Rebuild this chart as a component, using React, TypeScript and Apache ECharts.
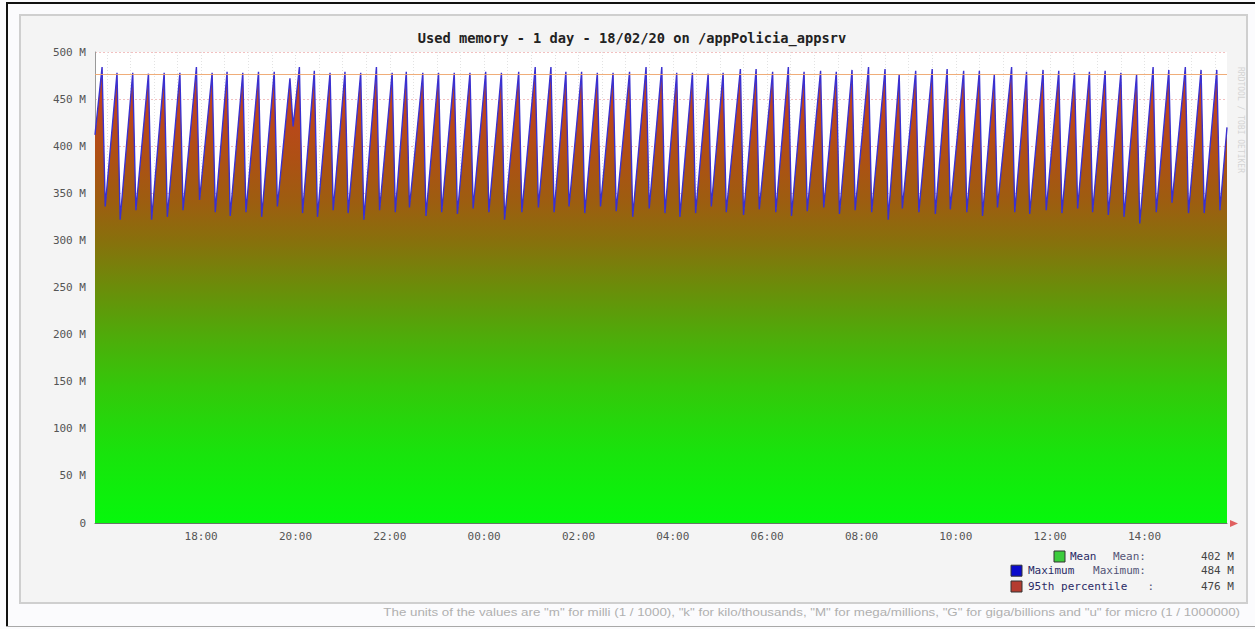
import React, { useEffect, useRef } from 'react';
import * as echarts from 'echarts';

// time in minutes since 00:00 of 17/02 (values above 1440 are on 18/02)
const startPoint: [number, number] = [945, 412];
const endPoint: [number, number] = [2385, 420];

const peakTimes = [
  954, 973, 993, 1013, 1033, 1053, 1074, 1094, 1113, 1133,
  1153, 1173, 1193, 1205, 1224, 1244, 1263, 1283, 1303, 1323,
  1341, 1362, 1382, 1402, 1422, 1442, 1462, 1484, 1505, 1525,
  1544, 1564, 1584, 1604, 1625, 1646, 1666, 1685, 1705, 1725,
  1744, 1766, 1786, 1807, 1827, 1847, 1868, 1888, 1908, 1929,
  1950, 1968, 1989, 2010, 2029, 2050, 2070, 2089, 2111, 2130,
  2151, 2171, 2191, 2210, 2230, 2250, 2270, 2291, 2311, 2332,
  2352, 2372,
];
const peakValues = [
  484, 478, 478, 477, 478, 478, 484, 478, 479, 478,
  479, 479, 472, 484, 480, 478, 479, 478, 484, 478,
  479, 478, 478, 478, 478, 479, 478, 479, 484, 484,
  479, 479, 478, 478, 479, 484, 484, 478, 478, 477,
  478, 482, 482, 479, 484, 479, 480, 479, 481, 484,
  482, 476, 480, 482, 482, 480, 480, 476, 484, 479,
  481, 480, 478, 479, 480, 478, 476, 484, 481, 484,
  481, 481,
];
const troughTimes = [
  958, 977, 997, 1017, 1037, 1057, 1078, 1098, 1117, 1137,
  1157, 1177, 1197, 1209, 1228, 1248, 1267, 1287, 1307, 1327,
  1345, 1366, 1386, 1406, 1426, 1446, 1466, 1488, 1509, 1529,
  1548, 1568, 1588, 1608, 1629, 1650, 1670, 1689, 1709, 1729,
  1748, 1770, 1790, 1811, 1831, 1851, 1872, 1892, 1912, 1933,
  1954, 1972, 1993, 2014, 2033, 2054, 2074, 2093, 2115, 2134,
  2155, 2175, 2195, 2214, 2234, 2254, 2274, 2295, 2315, 2336,
  2356, 2376,
];
const troughValues = [
  336, 322, 332, 322, 325, 332, 343, 330, 326, 330,
  325, 336, 421, 329, 325, 332, 329, 322, 332, 330,
  335, 326, 330, 328, 334, 330, 322, 330, 335, 330,
  336, 329, 336, 331, 325, 334, 329, 325, 329, 336,
  330, 327, 333, 330, 326, 331, 335, 328, 332, 330,
  322, 334, 330, 328, 333, 330, 326, 335, 330, 328,
  332, 329, 334, 330, 327, 325, 318, 330, 340, 329,
  329, 332,
];

const xTickTimes = [1080, 1200, 1320, 1440, 1560, 1680, 1800, 1920, 2040, 2160, 2280];
const xTickLabels = ['18:00', '20:00', '22:00', '00:00', '02:00', '04:00', '06:00', '08:00', '10:00', '12:00', '14:00'];

const legendNames = ['Mean', 'Maximum', '95th percentile'];
const legendLabels = ['Mean:', 'Maximum:', ':'];
const legendValues = ['402 M', '484 M', '476 M'];
const percentile95 = 476;

const titleText = 'Used memory - 1 day - 18/02/20 on /appPolicia_appsrv';
const footerText =
  'The units of the values are "m" for milli (1 / 1000), "k" for kilo/thousands, "M" for mega/millions, "G" for giga/billions and "u" for micro (1 / 1000000)';

const MONO = '"DejaVu Sans Mono", "Liberation Mono", monospace';

export default function App() {
  const ref = useRef<HTMLDivElement>(null);

  useEffect(() => {
    if (!ref.current) return;
    const chart = echarts.init(ref.current, undefined, { renderer: 'svg' });

    const memData: [number, number][] = [startPoint];
    for (let i = 0; i < peakTimes.length; i++) {
      memData.push([peakTimes[i], peakValues[i]]);
      memData.push([troughTimes[i], troughValues[i]]);
    }
    memData.push(endPoint);

    const gridTimes: number[] = [];
    for (let t = 960; t < 2385; t += 30) gridTimes.push(t);

    const gradient = new echarts.graphic.LinearGradient(0, 0, 0, 1, [
      { offset: 0, color: '#c43c22' },
      { offset: 0.1, color: '#bc461c' },
      { offset: 0.2, color: '#ae5014' },
      { offset: 0.3, color: '#9c5e10' },
      { offset: 0.38, color: '#88700c' },
      { offset: 0.48, color: '#6c8c0a' },
      { offset: 0.6, color: '#4cae0a' },
      { offset: 0.7, color: '#34c80a' },
      { offset: 0.85, color: '#18e40c' },
      { offset: 1, color: '#06f80c' },
    ]);

    const legendColors = ['#3ccc3c', '#0a0acc', '#b43c30'];
    const legendBoxX = [1054, 1011, 1011];
    const legendNameX = [1070, 1028, 1028];
    const legendRowY = [556.5, 570.7, 586.5];
    const legendLabelX = [1146, 1146, 1154];

    const legendGraphics: any[] = [];
    for (let i = 0; i < legendNames.length; i++) {
      legendGraphics.push({
        type: 'rect',
        z: 10,
        shape: { x: legendBoxX[i], y: legendRowY[i] - 5.5, width: 11, height: 11 },
        style: { fill: legendColors[i], stroke: '#333', lineWidth: 1 },
      });
      legendGraphics.push({
        type: 'text', z: 10, x: legendNameX[i], y: legendRowY[i],
        style: { text: legendNames[i], fill: '#2b2b66', fontSize: 11, fontFamily: MONO, align: 'left', verticalAlign: 'middle' },
      });
      legendGraphics.push({
        type: 'text', z: 10, x: legendLabelX[i], y: legendRowY[i],
        style: { text: legendLabels[i], fill: '#555577', fontSize: 11, fontFamily: MONO, align: 'right', verticalAlign: 'middle' },
      });
      legendGraphics.push({
        type: 'text', z: 10, x: 1234, y: legendRowY[i],
        style: { text: legendValues[i], fill: '#444', fontSize: 11, fontFamily: MONO, align: 'right', verticalAlign: 'middle' },
      });
    }

    chart.setOption({
      animation: false,
      backgroundColor: '#fbfbfd',
      grid: { left: 95, top: 52, right: 28, bottom: 106, show: true, backgroundColor: '#ffffff', borderWidth: 0 },
      xAxis: {
        type: 'value',
        min: 945,
        max: 2385,
        axisLine: { show: true, onZero: false, lineStyle: { color: '#667766', width: 1 } },
        axisTick: { show: false, customValues: gridTimes },
        splitLine: { show: true, lineStyle: { color: '#e2e2e2', type: [1, 2], width: 1 } },
        axisLabel: {
          customValues: xTickTimes,
          formatter: (v: number) => {
            const idx = xTickTimes.indexOf(Math.round(v));
            return idx >= 0 ? xTickLabels[idx] : '';
          },
          fontFamily: MONO,
          fontSize: 11,
          color: '#555',
          margin: 8,
        },
      },
      yAxis: {
        type: 'value',
        min: 0,
        max: 500,
        interval: 50,
        axisLine: { show: true, lineStyle: { color: '#999' } },
        axisTick: { show: false },
        splitLine: { show: true, lineStyle: { color: '#f2c0c0', type: [2, 2], width: 1 } },
        axisLabel: {
          formatter: (v: number) => (v === 0 ? '0' : v + ' M'),
          fontFamily: MONO,
          fontSize: 11,
          color: '#555',
          margin: 9,
        },
      },
      series: [
        {
          name: 'Mean',
          type: 'line',
          data: memData,
          symbol: 'none',
          lineStyle: { width: 0 },
          areaStyle: { color: gradient, opacity: 1 },
          silent: true,
          z: 2,
        },
        {
          name: 'Maximum',
          type: 'line',
          data: memData,
          symbol: 'none',
          lineStyle: { color: '#3a30d0', width: 1.4 },
          silent: true,
          z: 3,
          markLine: {
            silent: true,
            symbol: ['none', 'none'],
            label: { show: false },
            lineStyle: { color: '#eea46a', width: 1, type: 'solid', opacity: 0.9 },
            data: [{ yAxis: percentile95 }],
          },
        },
      ],
      graphic: [
        { type: 'rect', z: -5, shape: { x: 6, y: 2, width: 1249, height: 2 }, style: { fill: '#111' } },
        { type: 'rect', z: -5, shape: { x: 6, y: 2, width: 2, height: 625 }, style: { fill: '#111' } },
        { type: 'rect', z: -5, shape: { x: 6, y: 626, width: 1249, height: 1 }, style: { fill: '#a8a8a8' } },
        {
          type: 'rect', z: -5,
          shape: { x: 20, y: 15, width: 1227, height: 588 },
          style: { fill: '#f4f4f4', stroke: '#cfcfcf', lineWidth: 2 },
        },
        {
          type: 'text', z: 10, x: 632, y: 37.5,
          style: { text: titleText, fill: '#222', fontSize: 13.7, fontWeight: 'bold', fontFamily: MONO, align: 'center', verticalAlign: 'middle' },
        },
        {
          type: 'text', z: 10, x: 1240, y: 612, scaleX: 1.16,
          style: { text: footerText, fill: '#b0b0b0', fontSize: 11.5, fontFamily: '"Liberation Sans", Arial, sans-serif', align: 'right', verticalAlign: 'middle' },
        },
        {
          type: 'text', z: 10, x: 1240, y: 120, rotation: -Math.PI / 2,
          style: { text: 'RRDTOOL / TOBI OETIKER', fill: '#d4d4d4', fontSize: 8, fontFamily: MONO, align: 'center', verticalAlign: 'middle' },
        },
        {
          type: 'polygon', z: 10,
          shape: { points: [[1230, 520], [1238, 523.5], [1230, 527]] },
          style: { fill: '#e06060' },
        },
        ...legendGraphics,
      ],
    });

    return () => chart.dispose();
  }, []);

  return <div ref={ref} style={{ position: 'absolute', left: 0, top: 0, width: 1255, height: 629 }} />;
}
